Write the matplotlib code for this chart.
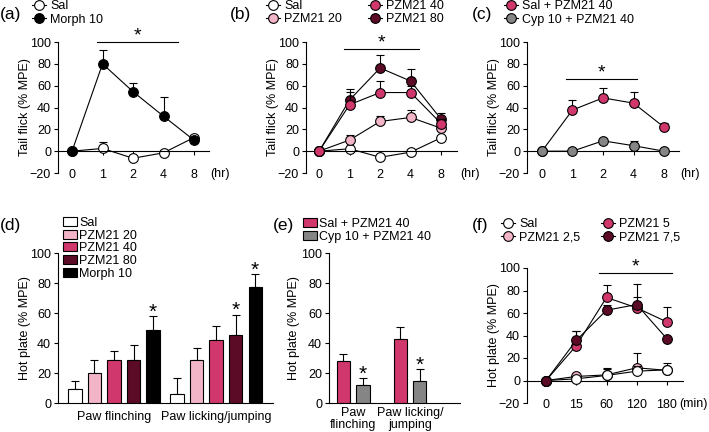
import numpy as np
import matplotlib.pyplot as plt
from matplotlib.patches import Patch

plt.rcParams['font.family'] = ['Liberation Sans', 'DejaVu Sans']
plt.rcParams['font.size'] = 9

W, H = 709, 432

# colours
C_SAL = 'white'
C_P20 = '#f2b5c7'
C_P40 = '#d0376c'
C_P80 = '#5c0b27'
C_MOR = 'black'
C_CYP = '#858585'

# ---- data -------------------------------------------------------------
hr_labels = ['0', '1', '2', '4', '8']
min_labels = ['0', '15', '60', '120', '180']

# (a) tail flick, morphine
a_sal = [0, 2.5, -6.5, -1.5, 12.5]
a_sal_err = [0, 5.5, 0, 0, 2]
a_mor = [0, 80, 54.5, 32, 10]
a_mor_err = [0, 12.5, 8, 17.5, 3]

# (b) tail flick, PZM21 doses
b_sal = [0, 2.2, -5.6, -0.9, 12.3]
b_sal_err = [0, 0, 0, 0, 0]
b_p20 = [0, 10.2, 27.2, 30.9, 21]
b_p20_err = [0, 4.6, 5.2, 6.8, 0]
b_p40 = [0, 42.6, 53.7, 53.7, 25.3]
b_p40_err = [0, 11.4, 11, 6, 4]
b_p80 = [0, 47, 76.2, 64.2, 29.3]
b_p80_err = [0, 10, 11.5, 11.4, 5.3]

# (c) tail flick, cyprodime pretreatment
c_sal = [0, 37.7, 48.8, 44, 22]
c_sal_err = [0, 9.3, 9.2, 10, 4]
c_cyp = [0, 0, 9.5, 5, 0]
c_cyp_err = [0, 0, 0, 4, 0]

# (d) hot plate bars
d_groups = ['Paw flinching', 'Paw licking/jumping']
d_names = ['Sal', 'PZM21 20', 'PZM21 40', 'PZM21 80', 'Morph 10']
d_vals = [[9.3, 20, 28.4, 28.4, 48.4],
          [6, 28.4, 42, 45.3, 77.3]]
d_err = [[5.7, 9, 6.6, 10.6, 9.4],
         [10.4, 8.6, 9.5, 13.7, 8.5]]
d_sig = [[False, False, False, False, True],
         [False, False, False, True, True]]

# (e) hot plate, cyprodime
e_groups = ['Paw\nflinching', 'Paw licking/\njumping']
e_names = ['Sal + PZM21 40', 'Cyp 10 + PZM21 40']
e_vals = [[27.7, 12], [43, 14.4]]
e_err = [[5.3, 4.6], [8, 8.2]]
e_sig = [[False, True], [False, True]]

# (f) hot plate time course
f_sal = [0, 1.5, 4.5, 8.3, 9.5]
f_sal_err = [0, 0, 7, 5, 6.5]
f_p25 = [0, 3.6, 5, 11.3, 9]
f_p25_err = [0, 0, 5, 13, 0]
f_p5 = [0, 31, 73.8, 64.6, 52]
f_p5_err = [0, 12.7, 11, 9.4, 13]
f_p75 = [0, 35.7, 62.5, 67.5, 37]
f_p75_err = [0, 8, 5, 18.5, 0]


def add_ax(l, t, r, b):
    return fig.add_axes([l / W, 1 - b / H, (r - l) / W, (b - t) / H])


def style_line_ax(ax, xlim, labels, unit, unit_x, unit_y, ylab_right):
    ax.set_xlim(*xlim)
    ax.set_ylim(-20, 100)
    ax.spines['top'].set_visible(False)
    ax.spines['right'].set_visible(False)
    ax.spines['bottom'].set_position(('data', 0))
    ax.spines['left'].set_bounds(-20, 100)
    ax.set_xticks(range(len(labels)))
    ax.set_xticklabels(labels)
    ax.set_yticks(np.arange(-20, 101, 20))
    ax.set_yticklabels(['\u221220', '0', '20', '40', '60', '80', '100'])
    ax.tick_params(axis='x', length=3, width=0.8, pad=10)
    ax.tick_params(axis='y', length=3, width=0.8, pad=2)
    for s in ax.spines.values():
        s.set_linewidth(0.8)
    fig.text(unit_x / W, 1 - unit_y / H, unit, ha='right', va='center')
    ax.yaxis.set_label_coords(ylab_right, 0.5)


def series(ax, y, err, color, label, z, ms=7):
    x = np.arange(len(y))
    ax.errorbar(x, y, yerr=[np.zeros(len(err)), err], fmt='none', ecolor='black',
                elinewidth=0.8, capsize=3, capthick=0.8, zorder=z)
    ln, = ax.plot(x, y, '-o', color='black', lw=0.8, mfc=color, mec='black',
                  mew=0.8, ms=ms, label=label, zorder=z + 0.5, clip_on=False)
    return ln


def sig_bar(ax, x0, x1, y):
    ax.plot([x0, x1], [y, y], color='black', lw=0.8, clip_on=False)
    ax.annotate('*', xy=((x0 + x1) / 2, y), xytext=(0, -2), textcoords='offset points',
                ha='center', va='bottom', fontsize=14, annotation_clip=False)


def legend_at(ax, handles, x, y, **kw):
    opts = dict(loc='upper left', bbox_to_anchor=(x / W, 1 - y / H),
                bbox_transform=fig.transFigure, frameon=False, borderpad=0,
                borderaxespad=0, handlelength=1.1, handletextpad=0.35,
                labelspacing=0.12, fontsize=9)
    opts.update(kw)
    return ax.legend(handles=handles, **opts)


fig = plt.figure(figsize=(W / 100, H / 100), dpi=100)

# ---- (a) --------------------------------------------------------------
ax = add_ax(58, 42, 209, 173)
h1 = series(ax, a_sal, a_sal_err, C_SAL, 'Sal', 2)
h2 = series(ax, a_mor, a_mor_err, C_MOR, 'Morph 10', 4)
style_line_ax(ax, (-0.46, 4.49), hr_labels, '(hr)', 230, 174, -0.18)
ax.set_ylabel('Tail flick (% MPE)')
sig_bar(ax, 0.82, 3.48, 100)
legend_at(ax, [h1, h2], 32, 0)
fig.text(0 / W, 1 - 15 / H, '(a)', fontsize=12.5, va='center')

# ---- (b) --------------------------------------------------------------
ax = add_ax(306, 42, 457, 173)
hs = series(ax, b_sal, b_sal_err, C_SAL, 'Sal', 2)
h20 = series(ax, b_p20, b_p20_err, C_P20, 'PZM21 20', 4)
h80 = series(ax, b_p80, b_p80_err, C_P80, 'PZM21 80', 6)
h40 = series(ax, b_p40, b_p40_err, C_P40, 'PZM21 40', 8)
style_line_ax(ax, (-0.43, 4.52), hr_labels, '(hr)', 480, 174, -0.18)
ax.set_ylabel('Tail flick (% MPE)')
sig_bar(ax, 0.82, 3.28, 94)
lg = legend_at(ax, [hs, h20], 266, 0)
ax.add_artist(lg)
legend_at(ax, [h40, h80], 368, 0)
fig.text(230 / W, 1 - 15 / H, '(b)', fontsize=12.5, va='center')

# ---- (c) --------------------------------------------------------------
ax = add_ax(527, 42, 679, 173)
hc1 = series(ax, c_sal, c_sal_err, C_P40, 'Sal + PZM21 40', 2)
hc2 = series(ax, c_cyp, c_cyp_err, C_CYP, 'Cyp 10 + PZM21 40', 4)
style_line_ax(ax, (-0.49, 4.49), hr_labels, '(hr)', 700, 174, -0.18)
ax.set_ylabel('Tail flick (% MPE)')
sig_bar(ax, 0.79, 3.1, 66)
legend_at(ax, [hc1, hc2], 504, 0)
fig.text(472 / W, 1 - 15 / H, '(c)', fontsize=12.5, va='center')

# ---- (d) --------------------------------------------------------------
ax = add_ax(58, 253, 273, 403)
d_colors = [C_SAL, C_P20, C_P40, C_P80, C_MOR]
step = 5.23
for g in range(len(d_groups)):
    for i in range(len(d_names)):
        xp = g * step + i
        ax.bar(xp, d_vals[g][i], width=0.67, color=d_colors[i], edgecolor='black',
               lw=0.8, zorder=3)
        ax.errorbar(xp, d_vals[g][i], yerr=[[0], [d_err[g][i]]], fmt='none',
                    ecolor='black', elinewidth=0.8, capsize=3, capthick=0.8, zorder=2)
        if d_sig[g][i]:
            ax.annotate('*', xy=(xp, d_vals[g][i] + d_err[g][i]), xytext=(0, -4),
                        textcoords='offset points', ha='center', va='bottom',
                        fontsize=15)
ax.set_xlim(-0.87, 10.15)
ax.set_ylim(0, 100)
ax.set_xticks([g * step + 2 for g in range(len(d_groups))])
ax.set_xticklabels(d_groups)
ax.set_yticks(np.arange(0, 101, 20))
ax.tick_params(axis='x', length=0, pad=6)
ax.tick_params(axis='y', length=3, width=0.8, pad=2)
for s in ['top', 'right']:
    ax.spines[s].set_visible(False)
for s in ax.spines.values():
    s.set_linewidth(0.8)
ax.set_ylabel('Hot plate (% MPE)')
ax.yaxis.set_label_coords(-0.125, 0.5)
legend_at(ax, [Patch(facecolor=c, edgecolor='black', lw=0.8, label=n)
               for c, n in zip(d_colors, d_names)], 63, 217,
          handlelength=1.1, handleheight=0.7, handletextpad=0.2, labelspacing=0.05)
fig.text(0 / W, 1 - 225 / H, '(d)', fontsize=12.5, va='center')

# ---- (e) --------------------------------------------------------------
ax = add_ax(329, 253, 460, 403)
e_colors = [C_P40, C_CYP]
estep = 2.9
for g in range(len(e_groups)):
    for i in range(len(e_names)):
        xp = g * estep + i
        ax.bar(xp, e_vals[g][i], width=0.68, color=e_colors[i], edgecolor='black',
               lw=0.8, zorder=3)
        ax.errorbar(xp, e_vals[g][i], yerr=[[0], [e_err[g][i]]], fmt='none',
                    ecolor='black', elinewidth=0.8, capsize=3, capthick=0.8, zorder=2)
        if e_sig[g][i]:
            ax.annotate('*', xy=(xp, e_vals[g][i] + e_err[g][i]), xytext=(0, -4),
                        textcoords='offset points', ha='center', va='bottom',
                        fontsize=15)
ax.set_xlim(-0.73, 5.95)
ax.set_ylim(0, 100)
ax.set_xticks([g * estep + 0.5 for g in range(len(e_groups))])
ax.set_xticklabels(e_groups, linespacing=0.95)
ax.set_yticks(np.arange(0, 101, 20))
ax.tick_params(axis='x', length=0, pad=3)
ax.tick_params(axis='y', length=3, width=0.8, pad=2)
for s in ['top', 'right']:
    ax.spines[s].set_visible(False)
for s in ax.spines.values():
    s.set_linewidth(0.8)
ax.set_ylabel('Hot plate (% MPE)')
ax.yaxis.set_label_coords(-0.22, 0.5)
legend_at(ax, [Patch(facecolor=c, edgecolor='black', lw=0.8, label=n)
               for c, n in zip(e_colors, e_names)], 303, 218,
          handlelength=1.1, handleheight=0.7, handletextpad=0.2, labelspacing=0.05)
fig.text(273 / W, 1 - 225 / H, '(e)', fontsize=12.5, va='center')

# ---- (f) --------------------------------------------------------------
ax = add_ax(527, 268, 683, 403)
hf25 = series(ax, f_p25, f_p25_err, C_P20, 'PZM21 2,5', 2)
hfs = series(ax, f_sal, f_sal_err, C_SAL, 'Sal', 4)
hf5 = series(ax, f_p5, f_p5_err, C_P40, 'PZM21 5', 6)
hf75 = series(ax, f_p75, f_p75_err, C_P80, 'PZM21 7,5', 8)
style_line_ax(ax, (-0.63, 4.53), min_labels, '(min)', 708, 404, -0.17)
ax.set_ylabel('Hot plate (% MPE)')
sig_bar(ax, 1.75, 4.17, 96)
lg = legend_at(ax, [hfs, hf25], 501, 218)
ax.add_artist(lg)
legend_at(ax, [hf5, hf75], 601, 218)
fig.text(472 / W, 1 - 225 / H, '(f)', fontsize=12.5, va='center')

fig.savefig('out.png', dpi=100)
